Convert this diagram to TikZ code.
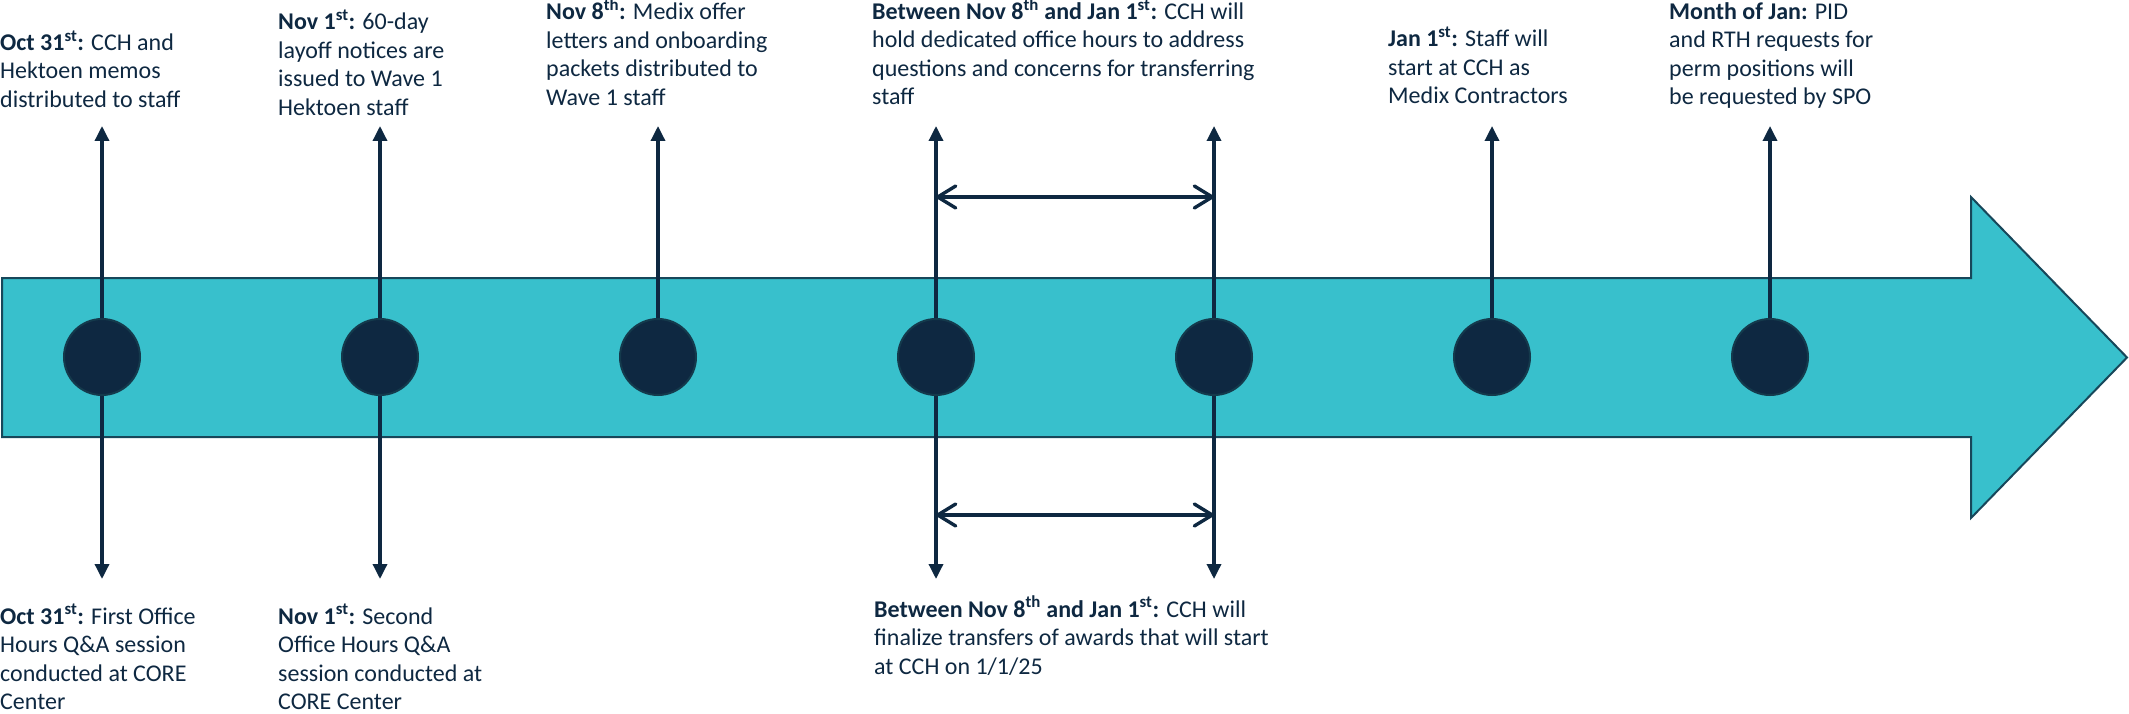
\documentclass[tikz,border=0pt]{standalone}
\usepackage{fontspec}
\setmainfont{Carlito}
\usetikzlibrary{arrows.meta, positioning}

\definecolor{navy}{HTML}{0E2841}
\definecolor{bandfill}{HTML}{38C0CC}
\definecolor{bandedge}{HTML}{17475A}
\definecolor{dotedge}{HTML}{143A4C}

\begin{document}
\begin{tikzpicture}[
    x=1pt, y=-1pt,
    node distance=278pt,
    milestone/.style={circle, draw=dotedge, fill=navy, line width=2pt, minimum size=76pt, inner sep=0pt},
    memo/.style={anchor=base west, align=left, inner sep=0pt, text=navy, font=\fontsize{24}{28.5}\selectfont},
    pointer/.style={-{Triangle[length=15pt, width=14pt]}, line width=3.4pt, navy},
    window/.style={{Straight Barb[length=18pt, width=22pt, round]}-{Straight Barb[length=18pt, width=22pt, round]}, line width=3.4pt, navy},
    band/.style={fill=bandfill, draw=bandedge, line width=2pt}
]
    \useasboundingbox (0,0) rectangle (2129,714);

    % Timeline arrow
    \draw[band] (2,278) -- (1971,278) -- (1971,197) -- (2127,357.5) -- (1971,518) -- (1971,437) -- (2,437) -- cycle;

    % ========== Milestones ==========
    \node (oct31) [milestone] at (102,357) {};
    \node (nov1) [milestone, right of=oct31] {};
    \node (nov8) [milestone, right of=nov1] {};
    \node (from_nov8) [milestone, right of=nov8] {};
    \node (to_jan1) [milestone, right of=from_nov8] {};
    \node (jan1) [milestone, right of=to_jan1] {};
    \node (jan_month) [milestone, right of=jan1] {};

    % Arrow rows
    \coordinate (uprow) at (0,126);
    \coordinate (downrow) at (0,579);
    \coordinate (topspan) at (0,197);
    \coordinate (lowspan) at (0,515);

    % ========== Upper notes (placed by last baseline) ==========
    \node (oct31_up) [memo] at (0,107.5) {\textbf{Oct 31\textsuperscript{st}:} CCH and\\Hektoen memos\\distributed to staff};
    \node (nov1_up) [memo] at (278,115.5) {\textbf{Nov 1\textsuperscript{st}:} 60-day\\layoff notices are\\issued to Wave 1\\Hektoen staff};
    \node (nov8_up) [memo] at (546,105.5) {\textbf{Nov 8\textsuperscript{th}:} Medix offer\\letters and onboarding\\packets distributed to\\Wave 1 staff};
    \node (span_up) [memo] at (872,105) {\textbf{Between Nov 8\textsuperscript{th} and Jan 1\textsuperscript{st}:} CCH will\\hold dedicated office hours to address\\questions and concerns for transferring\\staff};
    \node (jan1_up) [memo] at (1388,104) {\textbf{Jan 1\textsuperscript{st}:} Staff will\\start at CCH as\\Medix Contractors};
    \node (jan_month_up) [memo] at (1669,105) {\textbf{Month of Jan:} PID\\and RTH requests for\\perm positions will\\be requested by SPO};

    % ========== Lower notes ==========
    \node (oct31_down) [memo] at (0,709.5) {\textbf{Oct 31\textsuperscript{st}:} First Office\\Hours Q\&A session\\conducted at CORE\\Center};
    \node (nov1_down) [memo] at (278,709.5) {\textbf{Nov 1\textsuperscript{st}:} Second\\Office Hours Q\&A\\session conducted at\\CORE Center};
    \node (span_down) [memo] at (874,674) {\textbf{Between Nov 8\textsuperscript{th} and Jan 1\textsuperscript{st}:} CCH will\\finalize transfers of awards that will start\\at CCH on 1/1/25};

    % Up arrows
    \draw [pointer] (oct31) -- (oct31 |- uprow);
    \draw [pointer] (nov1) -- (nov1 |- uprow);
    \draw [pointer] (nov8) -- (nov8 |- uprow);
    \draw [pointer] (from_nov8) -- (from_nov8 |- uprow);
    \draw [pointer] (to_jan1) -- (to_jan1 |- uprow);
    \draw [pointer] (jan1) -- (jan1 |- uprow);
    \draw [pointer] (jan_month) -- (jan_month |- uprow);

    % Down arrows
    \draw [pointer] (oct31) -- (oct31 |- downrow);
    \draw [pointer] (nov1) -- (nov1 |- downrow);
    \draw [pointer] (from_nov8) -- (from_nov8 |- downrow);
    \draw [pointer] (to_jan1) -- (to_jan1 |- downrow);

    % Span between Nov 8 and Jan 1
    \draw [window] (from_nov8 |- topspan) -- (to_jan1 |- topspan);
    \draw [window] (from_nov8 |- lowspan) -- (to_jan1 |- lowspan);
\end{tikzpicture}
\end{document}
